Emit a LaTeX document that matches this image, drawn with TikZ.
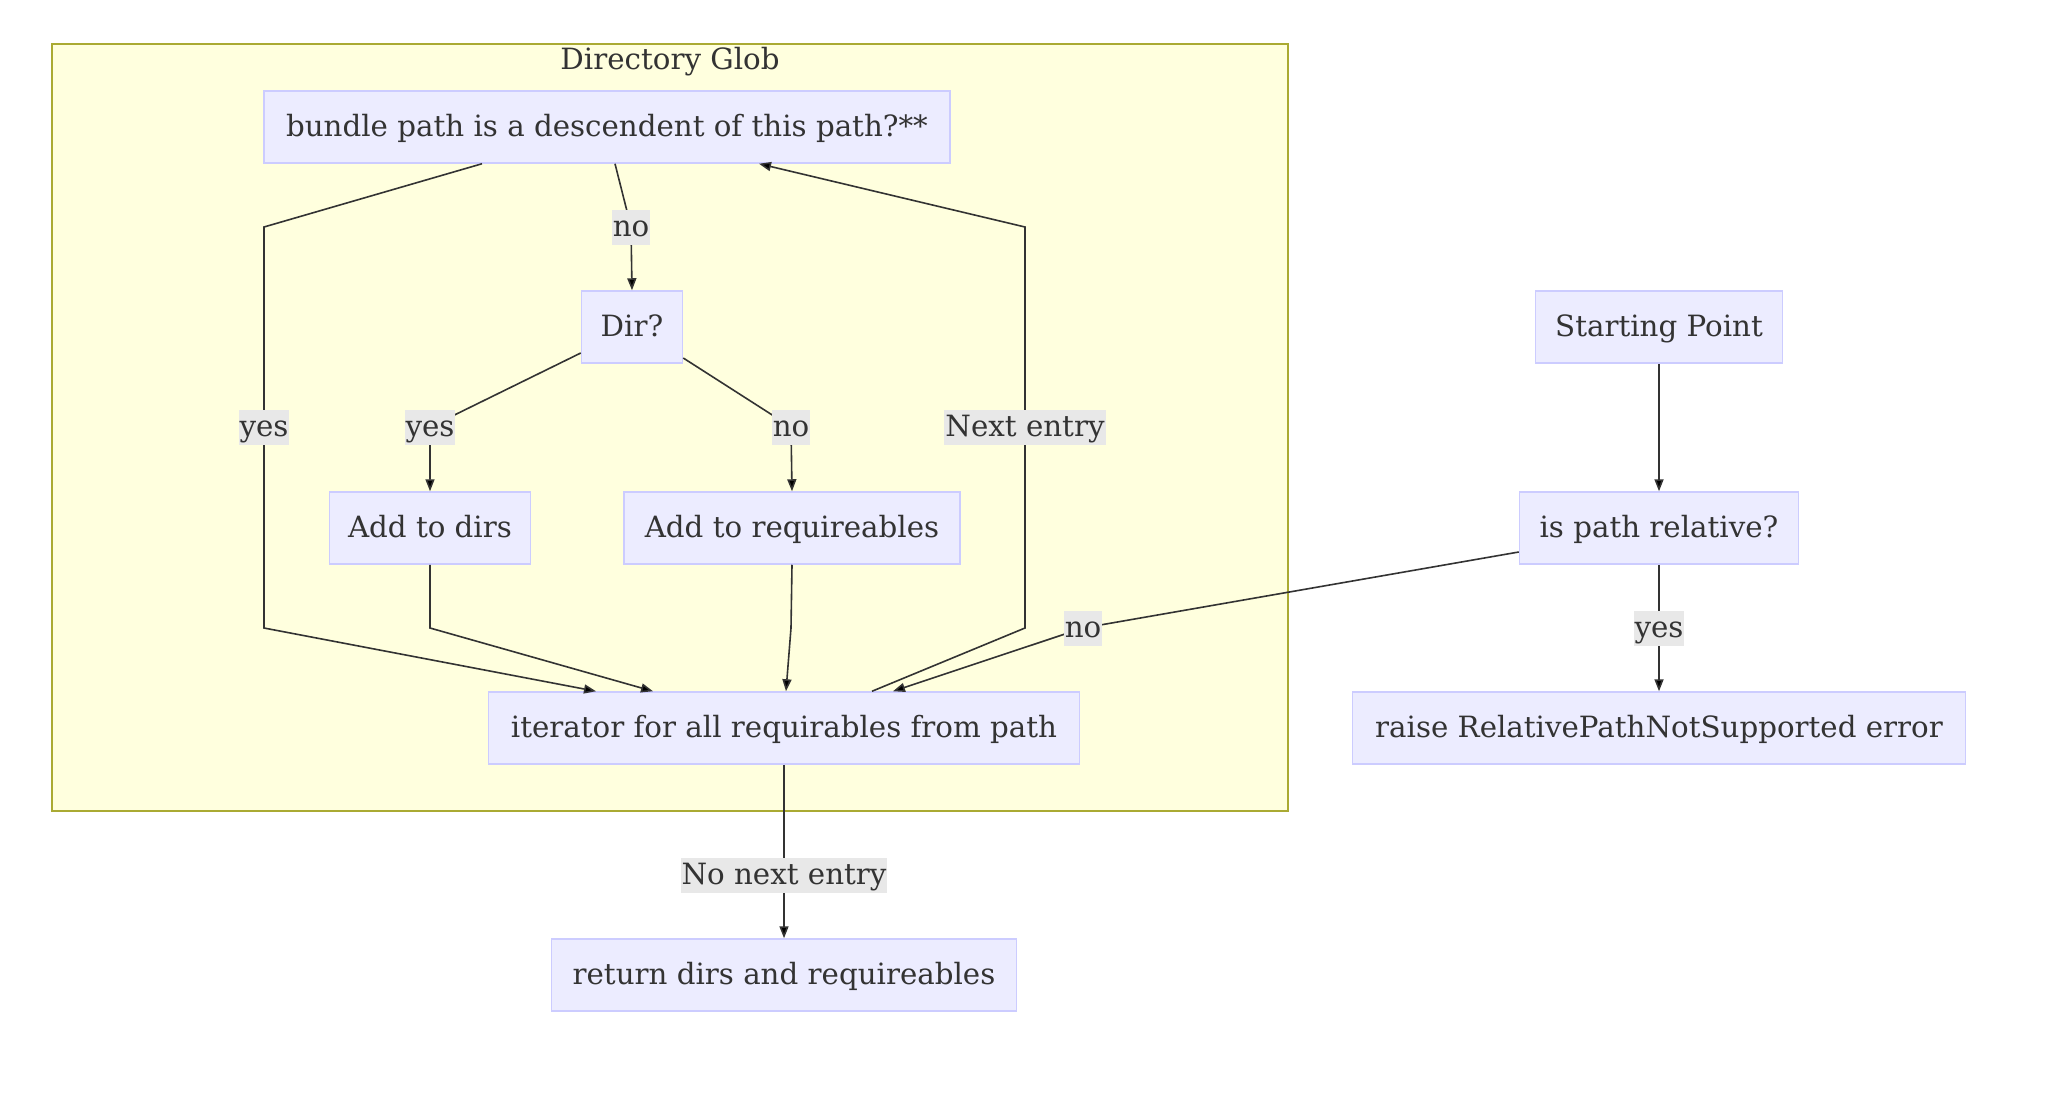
\documentclass[tikz,border=0pt]{standalone}
\usepackage{fontspec}
\setmainfont{DejaVu Serif}
\usetikzlibrary{arrows.meta,calc}
\definecolor{nodefill}{HTML}{ECECFF}
\definecolor{nodeline}{HTML}{CCCCFF}
\definecolor{clusterfill}{HTML}{FFFFDE}
\definecolor{clusterline}{HTML}{AAAA33}
\definecolor{labelfill}{HTML}{E8E8E8}
\definecolor{ink}{HTML}{333333}
\begin{document}
\begin{tikzpicture}[x=1pt,y=-1pt,
  txt/.style={text=ink,font=\fontsize{29.3}{34}\selectfont},
  box/.style={txt,draw=nodeline,fill=nodefill,line width=1.5pt,
    minimum height=72pt,inner sep=0pt,text height=24pt,text depth=4.5pt},
  lbl/.style={txt,fill=labelfill,inner xsep=1pt,inner ysep=3pt,
    text height=24pt,text depth=5pt},
  edge/.style={draw=ink,line width=1.6pt,
    -{Triangle[length=12pt,width=9pt,fill=black]}}]
\useasboundingbox[fill=white] (0,0) rectangle (2048,1095);

% subgraph frame
\draw[fill=clusterfill,draw=clusterline,line width=1.6pt] (52,44) rectangle (1288,811);
\node[txt] (title) at (670,62) {Directory Glob};

% nodes
\node[box,minimum width=686pt] (bundle) at (607,127) {bundle path is a descendent of this path?**};
\node[box,minimum width=101pt] (dir) at (632,327) {Dir?};
\node[box,minimum width=201pt] (adddirs) at (430,528) {Add to dirs};
\node[box,minimum width=336pt] (addreq) at (792,528) {Add to requireables};
\node[box,minimum width=591pt] (iter) at (784,728) {iterator for all requirables from path};
\node[box,minimum width=465pt] (ret) at (784,975) {return dirs and requireables};
\node[box,minimum width=247pt] (start) at (1659,327) {Starting Point};
\node[box,minimum width=279pt] (rel) at (1659,528) {is path relative?};
\node[box,minimum width=613pt] (raise) at (1659,728) {raise RelativePathNotSupported error};

% connectors
\draw[edge] ($(bundle.south)+(-125,0)$) -- (264,227) -- (264,628) -- ($(iter.north)+(-188,0)$);
\draw[edge] ($(bundle.south)+(8,0)$) -- (631,227) -- (dir.north);
\draw[edge] ($(dir.west)+(0,26)$) -- (430,427) -- (adddirs.north);
\draw[edge] ($(dir.east)+(0,31)$) -- (791,427) -- (addreq.north);
\draw[edge] (adddirs.south) -- (430,628) -- ($(iter.north)+(-131,0)$);
\draw[edge] (addreq.south) -- (791,628) -- ($(iter.north)+(2,0)$);
\draw[edge] ($(iter.north)+(88,0)$) -- (1025,628) -- (1025,227) -- ($(bundle.south)+(152,0)$);
\draw[edge] ($(rel.west)+(0,24)$) -- (1083,628) -- ($(iter.north)+(109,0)$);
\draw[edge] (iter.south) -- (ret.north);
\draw[edge] (start.south) -- (rel.north);
\draw[edge] (rel.south) -- (raise.north);

% connector labels
\node[lbl] (l1) at (264,427) {yes};
\node[lbl] (l2) at (631,227) {no};
\node[lbl] (l3) at (430,427) {yes};
\node[lbl] (l4) at (791,427) {no};
\node[lbl] (l5) at (1025,427) {Next entry};
\node[lbl] (l6) at (1083,628) {no};
\node[lbl] (l7) at (1659,628) {yes};
\node[lbl] (l8) at (784,875) {No next entry};
\end{tikzpicture}
\end{document}
